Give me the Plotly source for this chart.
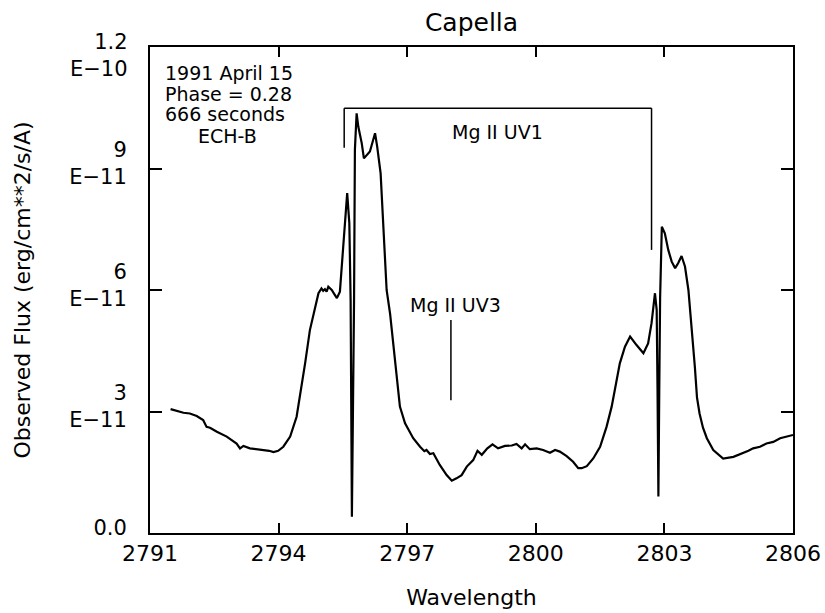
import plotly.graph_objects as go

# ---------------- data (flux in units of 1e-11 erg/cm^2/s/A) ----------------
wavelength = [
    2791.48, 2791.62, 2791.78, 2791.93, 2792.09, 2792.24, 2792.32, 2792.40, 2792.56,
    2792.79, 2793.02, 2793.10, 2793.18, 2793.33, 2793.50, 2793.64, 2793.78, 2793.88,
    2793.99, 2794.11, 2794.27, 2794.42, 2794.50, 2794.62, 2794.73, 2794.85, 2794.93,
    2795.00, 2795.04, 2795.08, 2795.12, 2795.16, 2795.24, 2795.30, 2795.36, 2795.43,
    2795.55, 2795.60, 2795.65, 2795.68, 2795.71, 2795.74, 2795.76, 2795.78, 2795.82,
    2795.86, 2795.94, 2795.99, 2796.13, 2796.25, 2796.30, 2796.38, 2796.44, 2796.52,
    2796.60, 2796.68, 2796.75, 2796.83, 2796.95, 2797.14, 2797.30, 2797.40, 2797.45,
    2797.53, 2797.61, 2797.76, 2797.92, 2798.04, 2798.15, 2798.27, 2798.39, 2798.54,
    2798.64, 2798.74, 2798.87, 2798.99, 2799.12, 2799.28, 2799.44, 2799.55, 2799.67,
    2799.75, 2799.86, 2800.02, 2800.17, 2800.33, 2800.45, 2800.56, 2800.72, 2800.87,
    2800.99, 2801.07, 2801.19, 2801.34, 2801.50, 2801.65, 2801.77, 2801.89, 2801.96,
    2802.08, 2802.20, 2802.35, 2802.51, 2802.62, 2802.70, 2802.78, 2802.82, 2802.84,
    2802.86, 2802.88, 2802.90, 2802.94, 2803.01, 2803.09, 2803.17, 2803.25, 2803.32,
    2803.40, 2803.48, 2803.56, 2803.64, 2803.71, 2803.76, 2803.82, 2803.90, 2803.99,
    2804.14, 2804.37, 2804.61, 2804.84, 2804.96, 2805.07, 2805.23, 2805.38, 2805.54,
    2805.70, 2805.85, 2806.00,
]
flux_e11 = [
    3.06, 3.02, 2.97, 2.95, 2.89, 2.79, 2.62, 2.60, 2.50,
    2.38, 2.21, 2.09, 2.15, 2.09, 2.07, 2.05, 2.03, 2.00,
    2.03, 2.13, 2.38, 2.87, 3.37, 4.20, 5.01, 5.59, 5.92,
    6.04, 5.98, 6.02, 5.96, 6.08, 6.00, 5.90, 5.80, 5.96,
    7.65, 8.39, 7.65, 5.75, 0.40, 3.50, 5.75, 9.46, 10.36,
    10.03, 9.62, 9.25, 9.42, 9.87, 9.54, 8.88, 7.65, 6.00,
    5.42, 4.60, 3.78, 3.12, 2.71, 2.34, 2.13, 2.02, 2.05,
    1.95, 1.97, 1.68, 1.43, 1.29, 1.35, 1.43, 1.64, 1.80,
    2.03, 1.93, 2.09, 2.19, 2.09, 2.15, 2.16, 2.20, 2.09,
    2.19, 2.07, 2.09, 2.05, 1.98, 2.05, 2.01, 1.90, 1.76,
    1.60, 1.60, 1.65, 1.84, 2.13, 2.62, 3.12, 3.78, 4.19,
    4.60, 4.85, 4.64, 4.44, 4.68, 5.18, 5.92, 5.51, 3.50,
    0.90, 3.50, 5.80, 7.56, 7.40, 6.99, 6.70, 6.54, 6.66,
    6.84, 6.58, 6.00, 5.09, 4.11, 3.35, 2.95, 2.60, 2.34,
    2.05, 1.84, 1.88, 1.97, 2.03, 2.09, 2.13, 2.21, 2.25,
    2.34, 2.38, 2.42,
]

x_ticks = [2791, 2794, 2797, 2800, 2803, 2806]
y_ticks = [0, 3, 6, 9, 12]
y_tick_text = ["0.0", "3<br>E\u221211", "6<br>E\u221211", "9<br>E\u221211", ""]
y_top_label = "1.2<br>E\u221210"

# line identifications
uv1_lines = [2795.53, 2802.70]      # Mg II k and h
uv1_bar_level = 10.49
uv1_bottoms = [9.51, 6.99]
uv3_line = 2798.02
uv3_span = [3.28, 5.26]

info_lines = ["1991 April 15", "Phase = 0.28", "666 seconds"]
info_levels = [11.36, 10.84, 10.35]
info_x = 2791.30
ech_label = "ECH-B"
ech_pos = (2792.80, 9.80)

FONT = "DejaVu Sans"

fig = go.Figure()
fig.add_trace(go.Scatter(
    x=wavelength, y=flux_e11, mode="lines",
    line=dict(color="black", width=2.2), hoverinfo="skip", showlegend=False,
))

shapes = []
# UV1 bracket
shapes.append(dict(type="line", xref="x", yref="y", x0=uv1_lines[0], x1=uv1_lines[1],
                   y0=uv1_bar_level, y1=uv1_bar_level, line=dict(color="black", width=1.5)))
for xl, yb in zip(uv1_lines, uv1_bottoms):
    shapes.append(dict(type="line", xref="x", yref="y", x0=xl, x1=xl,
                       y0=yb, y1=uv1_bar_level, line=dict(color="black", width=1.5)))
# UV3 marker
shapes.append(dict(type="line", xref="x", yref="y", x0=uv3_line, x1=uv3_line,
                   y0=uv3_span[0], y1=uv3_span[1], line=dict(color="black", width=1.5)))

annotations = []
for txt, lvl in zip(info_lines, info_levels):
    annotations.append(dict(x=info_x, y=lvl, xref="x", yref="y", text=txt, showarrow=False,
                            xanchor="left", yanchor="middle",
                            font=dict(family=FONT, size=19, color="black")))
annotations.append(dict(x=ech_pos[0], y=ech_pos[1], xref="x", yref="y", text=ech_label,
                        showarrow=False, xanchor="center", yanchor="middle",
                        font=dict(family=FONT, size=19, color="black")))
annotations.append(dict(x=2799.1, y=9.9, xref="x", yref="y", text="Mg II UV1", showarrow=False,
                        xanchor="center", yanchor="middle",
                        font=dict(family=FONT, size=19, color="black")))
annotations.append(dict(x=uv3_line + 0.1, y=5.63, xref="x", yref="y", text="Mg II UV3",
                        showarrow=False, xanchor="center", yanchor="middle",
                        font=dict(family=FONT, size=19, color="black")))
annotations.append(dict(x=0, y=y_ticks[-1], xref="paper", yref="y", text=y_top_label,
                        showarrow=False, xanchor="right", yanchor="middle", align="right",
                        xshift=-20, yshift=-8,
                        font=dict(family=FONT, size=21, color="black")))

fig.update_layout(
    template="none",
    width=825, height=613,
    margin=dict(l=150, r=32, t=47, b=80),
    paper_bgcolor="white", plot_bgcolor="white",
    title=dict(text="Capella", x=0.5, xref="paper", xanchor="center",
               y=1 - 22 / 613, yref="container", yanchor="middle",
               font=dict(family=FONT, size=25, color="black")),
    shapes=shapes, annotations=annotations,
    showlegend=False,
)
fig.update_xaxes(
    range=[2791, 2806], tickvals=x_ticks, ticktext=[str(v) for v in x_ticks],
    ticks="inside", ticklen=10, tickwidth=1.5, tickcolor="black",
    showline=True, linecolor="black", linewidth=2, mirror="allticks",
    showgrid=False, zeroline=False, automargin=False,
    tickfont=dict(family=FONT, size=22, color="black"),
    ticklabelstandoff=0,
    title=dict(text="Wavelength", standoff=24, font=dict(family=FONT, size=22, color="black")),
)
fig.update_yaxes(
    range=[0, 12], tickvals=y_ticks, ticktext=y_tick_text,
    ticks="inside", ticklen=12, tickwidth=1.5, tickcolor="black",
    showline=True, linecolor="black", linewidth=2, mirror="allticks",
    showgrid=False, zeroline=False, automargin=False,
    tickfont=dict(family=FONT, size=21, color="black"),
    ticklabelstandoff=17, ticklabelshift=-5,
    title=dict(text="Observed Flux (erg/cm**2/s/A)", standoff=33,
               font=dict(family=FONT, size=22, color="black")),
)

fig.write_html("out.html")
